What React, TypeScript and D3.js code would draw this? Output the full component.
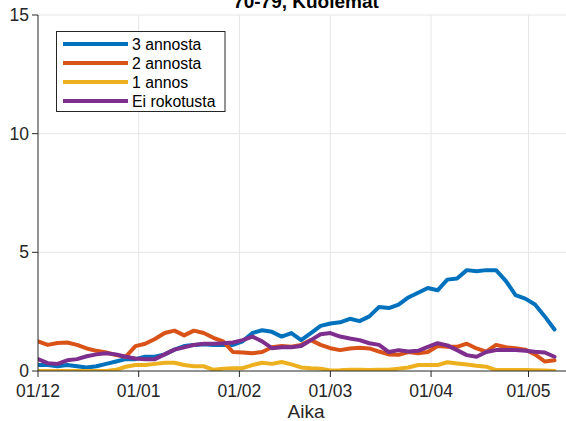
import React from "react";
import * as d3 from "d3";

const dates = [
  "2021-12-01","2021-12-04","2021-12-07","2021-12-10","2021-12-13","2021-12-16","2021-12-19","2021-12-22","2021-12-25","2021-12-28",
  "2021-12-31","2022-01-03","2022-01-06","2022-01-09","2022-01-12","2022-01-15","2022-01-18","2022-01-21","2022-01-24","2022-01-27",
  "2022-01-30","2022-02-02","2022-02-05","2022-02-08","2022-02-11","2022-02-14","2022-02-17","2022-02-20","2022-02-23","2022-02-26",
  "2022-03-01","2022-03-04","2022-03-07","2022-03-10","2022-03-13","2022-03-16","2022-03-19","2022-03-22","2022-03-25","2022-03-28",
  "2022-03-31","2022-04-03","2022-04-06","2022-04-09","2022-04-12","2022-04-15","2022-04-18","2022-04-21","2022-04-24","2022-04-27",
  "2022-04-30","2022-05-03","2022-05-06","2022-05-09",
];

const dose3 = [0.25,0.25,0.2,0.25,0.2,0.15,0.2,0.3,0.4,0.5, 0.5,0.6,0.6,0.7,0.9,1.05,1.1,1.13,1.1,1.1, 1.1,1.25,1.6,1.72,1.65,1.45,1.6,1.3,1.6,1.9, 2.0,2.05,2.2,2.1,2.3,2.7,2.65,2.8,3.1,3.3, 3.5,3.4,3.85,3.9,4.25,4.2,4.25,4.25,3.8,3.2, 3.05,2.8,2.3,1.75];
const dose2 = [1.25,1.1,1.18,1.2,1.1,0.95,0.85,0.78,0.67,0.6, 1.05,1.15,1.35,1.6,1.7,1.5,1.7,1.6,1.4,1.25, 0.8,0.78,0.75,0.8,1.0,1.05,1.02,1.1,1.3,1.1, 0.96,0.88,0.95,0.98,0.95,0.82,0.7,0.68,0.8,0.75, 0.8,1.05,1.02,1.02,1.15,0.95,0.82,1.1,1.0,0.96, 0.9,0.7,0.4,0.45];
const dose1 = [0,0,0,0,0,0,0,0,0.05,0.18, 0.25,0.25,0.3,0.35,0.35,0.25,0.2,0.2,0.05,0.1, 0.12,0.12,0.25,0.35,0.3,0.38,0.28,0.15,0.12,0.1, 0.02,0.03,0.05,0.05,0.04,0.05,0.05,0.1,0.15,0.25, 0.25,0.25,0.37,0.32,0.27,0.22,0.18,0.04,0.04,0.04, 0.04,0.03,0.02,0.0];
const unvacc = [0.5,0.33,0.3,0.45,0.5,0.62,0.7,0.75,0.7,0.6, 0.53,0.5,0.5,0.7,0.9,1.0,1.1,1.15,1.15,1.17, 1.2,1.3,1.45,1.25,0.96,1.0,1.0,1.05,1.3,1.55, 1.6,1.45,1.37,1.3,1.17,1.1,0.8,0.88,0.82,0.85, 1.02,1.17,1.08,0.88,0.67,0.6,0.8,0.88,0.88,0.88, 0.85,0.81,0.78,0.6];

const seriesNames = ["3 annosta", "2 annosta", "1 annos", "Ei rokotusta"];
const seriesColors = ["#0072BD", "#D95319", "#EDB120", "#7E2F8E"];
const seriesValues = [dose3, dose2, dose1, unvacc];
const yTicks = [0, 5, 10, 15];
const xTickDates = ["2021-12-01", "2022-01-01", "2022-02-01", "2022-03-01", "2022-04-01", "2022-05-01"];
const title = "70-79, Kuolemat";
const xLabel = "Aika";

const W = 566, H = 421;
const left = 38, right = 574, top = 15, bottom = 371;

export default function App() {
  const parse = d3.timeParse("%Y-%m-%d");
  const x = d3.scaleTime().domain([parse("2021-12-01")!, parse("2022-05-15")!]).range([left, right]);
  const y = d3.scaleLinear().domain([0, 15]).range([bottom, top]);
  const fmt = d3.timeFormat("%d/%m");
  const parsed = dates.map((d) => parse(d)!);
  const line = d3.line<number>().x((_, i) => x(parsed[i])).y((v) => y(v));
  const font = "'Liberation Sans', Arial, Helvetica, sans-serif";
  const axisColor = "#262626";
  const gridColor = "#e6e6e6";
  const xt = xTickDates.map((d) => parse(d)!);

  return (
    <div style={{ position: "absolute", left: 0, top: 0 }}>
      <svg width={W} height={H} style={{ display: "block", background: "#fff" }} fontFamily={font}>
        <defs>
          <clipPath id="plot">
            <rect x={left} y={top - 5} width={right - left} height={bottom - top + 5} />
          </clipPath>
        </defs>
        {yTicks.filter((t) => t > 0).map((t) => (
          <line key={"gy" + t} x1={left} x2={right} y1={y(t)} y2={y(t)} stroke={gridColor} strokeWidth={1} />
        ))}
        {xt.filter((_, i) => i > 0).map((d, i) => (
          <line key={"gx" + i} x1={x(d)} x2={x(d)} y1={top} y2={bottom} stroke={gridColor} strokeWidth={1} />
        ))}
        <g clipPath="url(#plot)">
          {seriesValues.map((vals, si) => (
            <path key={si} d={line(vals) || ""} fill="none" stroke={seriesColors[si]} strokeWidth={4} strokeLinejoin="round" strokeLinecap="round" />
          ))}
        </g>
        <line x1={left} x2={left} y1={top} y2={bottom} stroke={axisColor} strokeWidth={1} />
        <line x1={left} x2={right} y1={bottom} y2={bottom} stroke={axisColor} strokeWidth={1} />
        {yTicks.map((t) => (
          <g key={"yt" + t}>
            <line x1={left - 6} x2={left} y1={y(t)} y2={y(t)} stroke={axisColor} />
            <text x={left - 9} y={y(t)} dy="0.35em" textAnchor="end" fontSize={17.5} fill={axisColor}>{t}</text>
          </g>
        ))}
        {xt.map((d, i) => (
          <g key={"xt" + i}>
            <line x1={x(d)} x2={x(d)} y1={bottom} y2={bottom + 6} stroke={axisColor} />
            <text x={x(d)} y={397} textAnchor="middle" fontSize={17.5} fill={axisColor}>{fmt(d)}</text>
          </g>
        ))}
        <text x={(left + right) / 2} y={418} textAnchor="middle" fontSize={19} fill={axisColor}>{xLabel}</text>
        <text x={(left + right) / 2} y={8} textAnchor="middle" fontSize={19} fontWeight="bold" fill="#000">{title}</text>
        <rect x={56.5} y={31.5} width={168.5} height={80} fill="#fff" stroke={axisColor} strokeWidth={1} />
        {seriesNames.map((n, i) => (
          <g key={n}>
            <line x1={63} x2={128} y1={44 + i * 19} y2={44 + i * 19} stroke={seriesColors[i]} strokeWidth={4} />
            <text x={132} y={44 + i * 19} dy="0.35em" fontSize={15.8} fill="#000">{n}</text>
          </g>
        ))}
      </svg>
    </div>
  );
}
